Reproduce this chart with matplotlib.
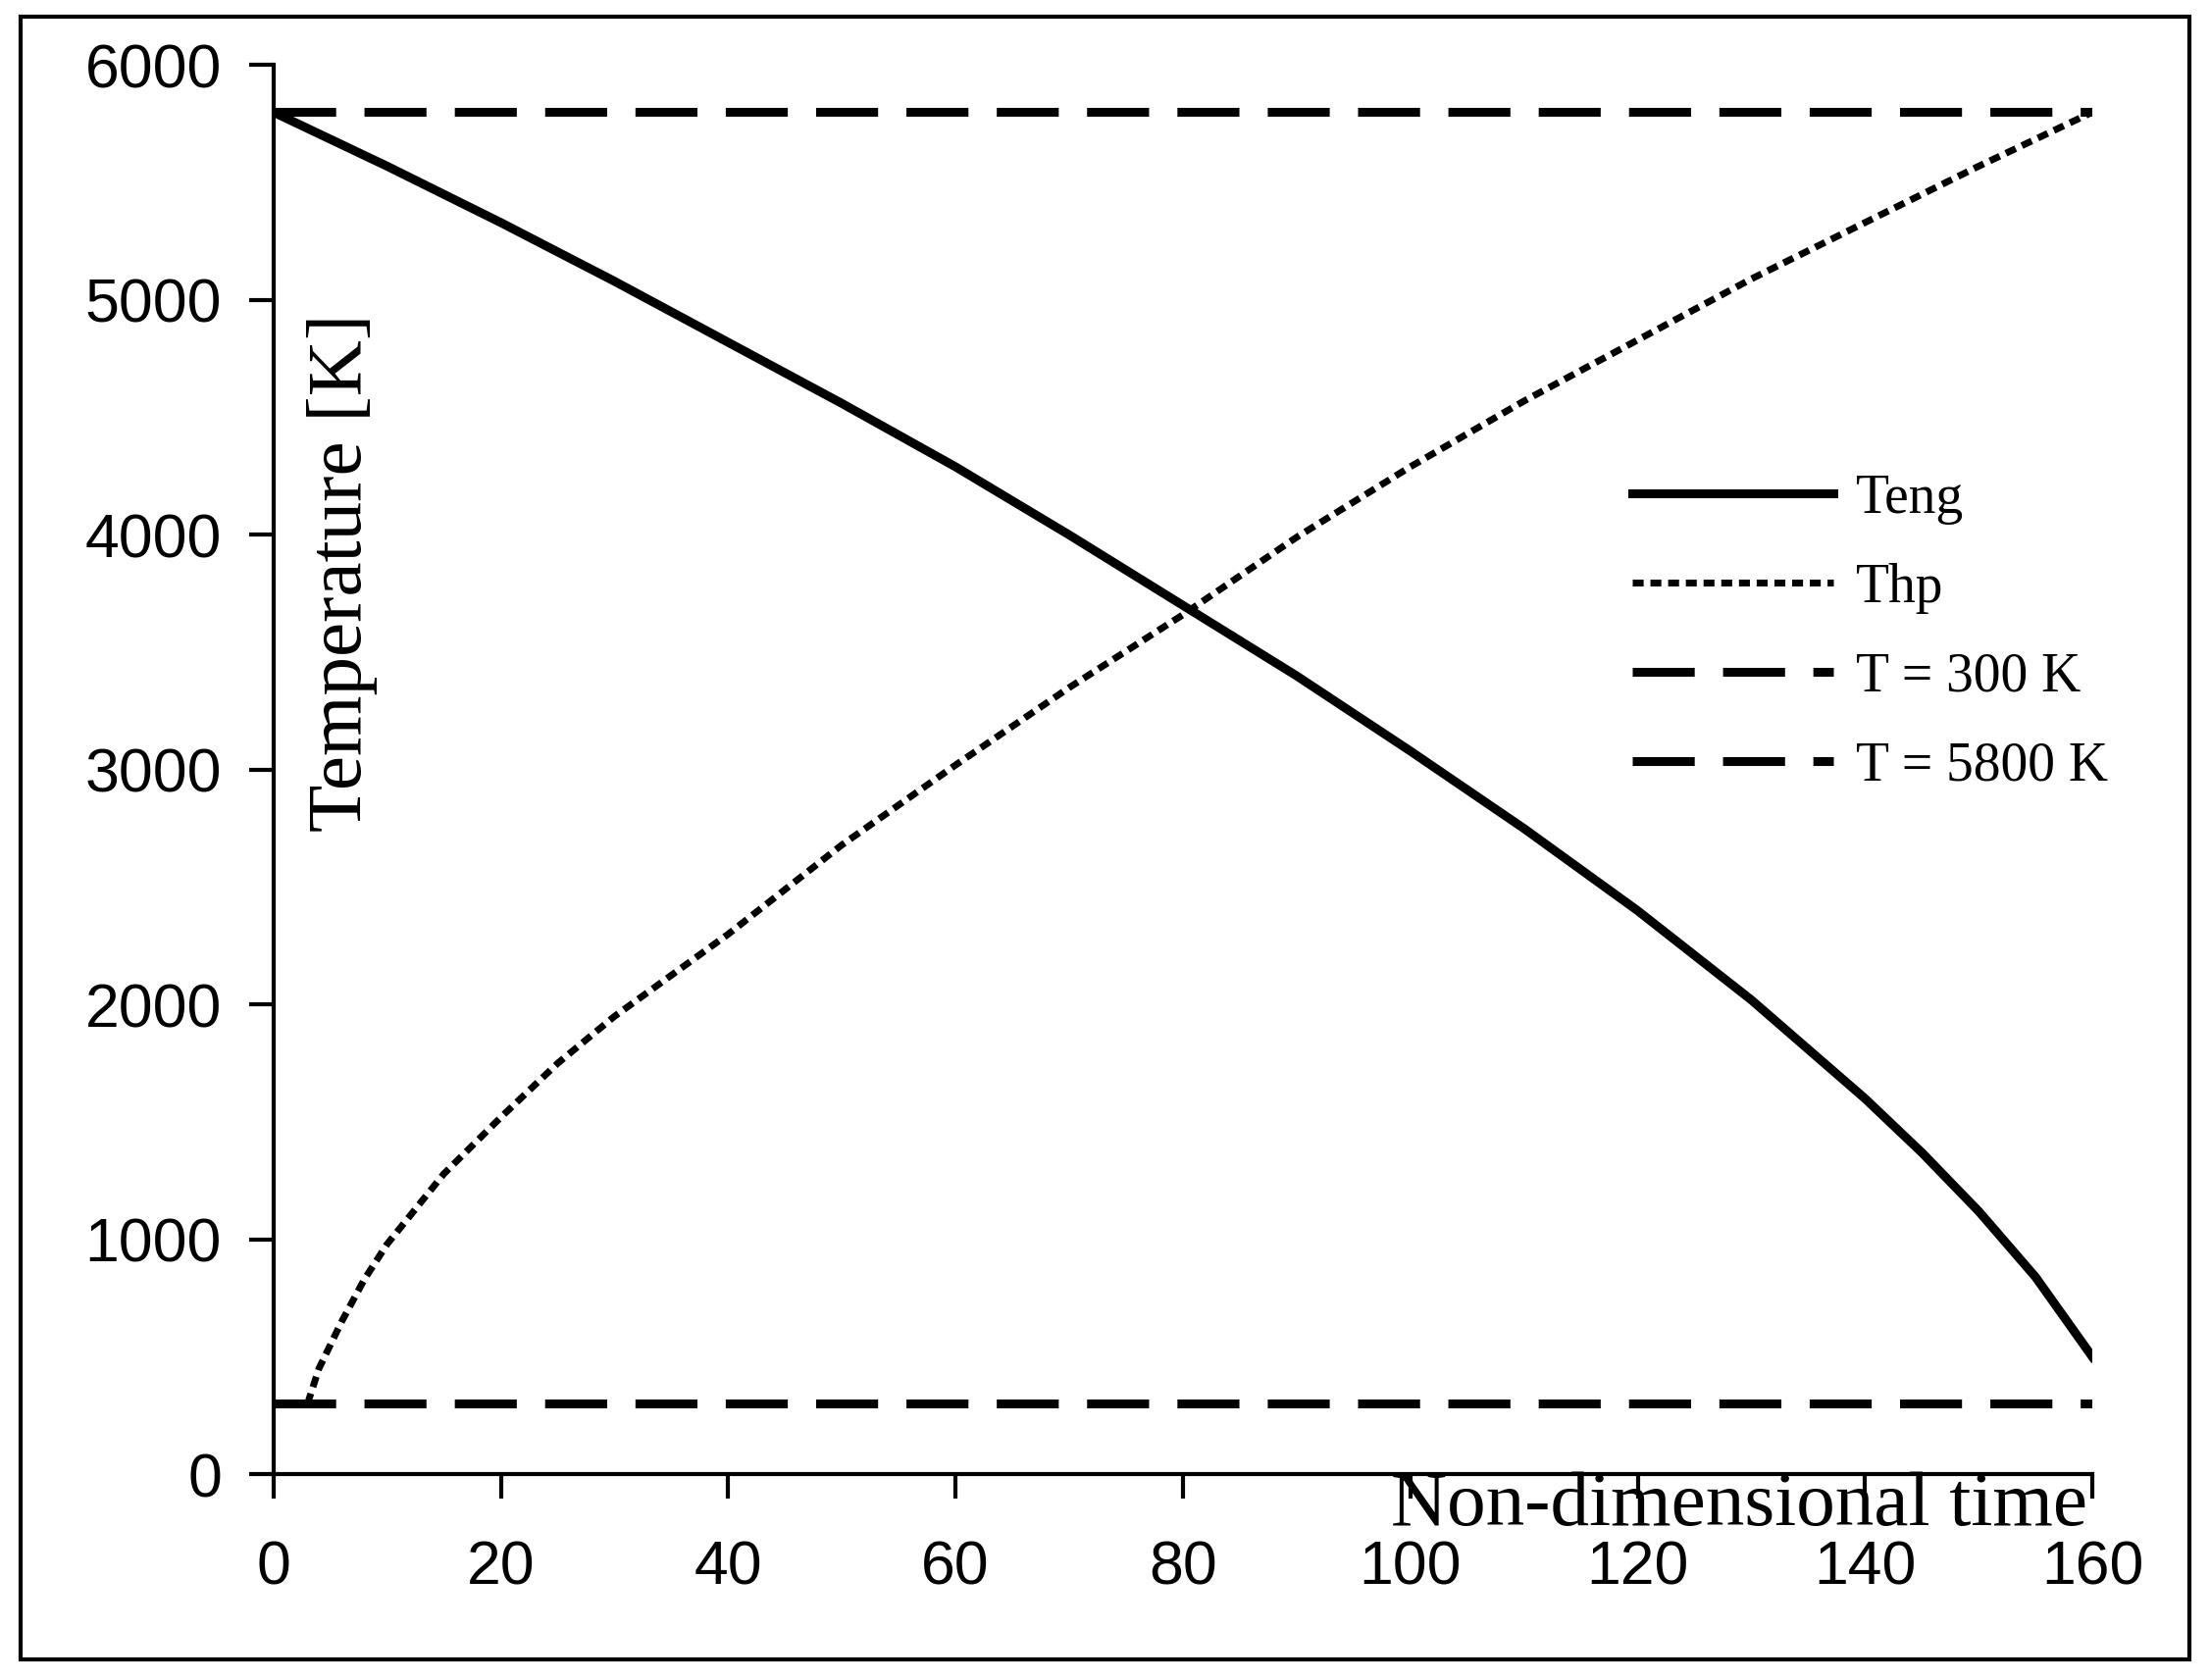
import matplotlib
matplotlib.use("Agg")
import matplotlib.pyplot as plt
from matplotlib.patches import Rectangle

t_eng = [0, 10, 20, 30, 40, 50, 60, 70, 80, 90, 100, 110, 120, 130, 140, 145, 150, 155, 160]
T_eng = [5800, 5570, 5330, 5080, 4820, 4560, 4290, 4000, 3700, 3400, 3080, 2750, 2400, 2020, 1600, 1370, 1120, 840, 500]
t_hp = [3, 4, 6, 8, 10, 15, 20, 25, 30, 40, 50, 60, 70, 80, 90, 100, 110, 120, 130, 140, 150, 160]
T_hp = [300, 450, 650, 830, 980, 1280, 1520, 1750, 1950, 2300, 2680, 3020, 3350, 3660, 3990, 4290, 4570, 4830, 5090, 5330, 5570, 5800]
t_span = [0, 160]
T_low = [300, 300]
T_high = [5800, 5800]

fig = plt.figure(figsize=(22.53, 17.13), dpi=100)
fig.patches.append(Rectangle((0.0095, 0.012), 0.981, 0.978, transform=fig.transFigure,
                             fill=False, ec='black', lw=3))
ax = fig.add_axes([0.1237, 0.1224, 0.8231, 0.8388])
ax.plot(t_eng, T_eng, color='black', lw=6.5, label='Teng')
ax.plot(t_hp, T_hp, color='black', lw=5, ls=(0, (1.6, 1.0)), label='Thp')
ax.plot(t_span, T_low, color='black', lw=6.5, ls=(0, (7, 3.2)), label='T = 300 K')
ax.plot(t_span, T_high, color='black', lw=6.5, ls=(0, (7, 3.2)), label='T = 5800 K')
ax.set_xlim(0, 160)
ax.set_ylim(0, 6000)
ax.set_xticks(range(0, 161, 20))
ax.set_yticks(range(0, 6001, 1000))
for s in ['top', 'right']:
    ax.spines[s].set_visible(False)
for s in ['left', 'bottom']:
    ax.spines[s].set_linewidth(3)
ax.tick_params(axis='both', direction='out', length=18, width=3, labelsize=45)
ax.tick_params(axis='x', pad=30)
ax.tick_params(axis='y', pad=20)
for lab in ax.get_xticklabels() + ax.get_yticklabels():
    lab.set_fontfamily('Liberation Sans')
ax.text(0.038, 0.64, 'Temperature [K]', transform=ax.transAxes, rotation=90,
        ha='center', va='center', fontsize=57, family='Liberation Serif')
ax.text(0.997, 0.002, 'Non-dimensional time', transform=ax.transAxes,
        ha='right', va='top', fontsize=57, family='Liberation Serif')
leg = ax.legend(loc='upper left', bbox_to_anchor=(0.72, 0.745), frameon=False,
                prop={'family': 'Liberation Serif', 'size': 40}, handlelength=3.7,
                labelspacing=0.7, handletextpad=0.4)
fig.savefig('out.png', dpi=100)
